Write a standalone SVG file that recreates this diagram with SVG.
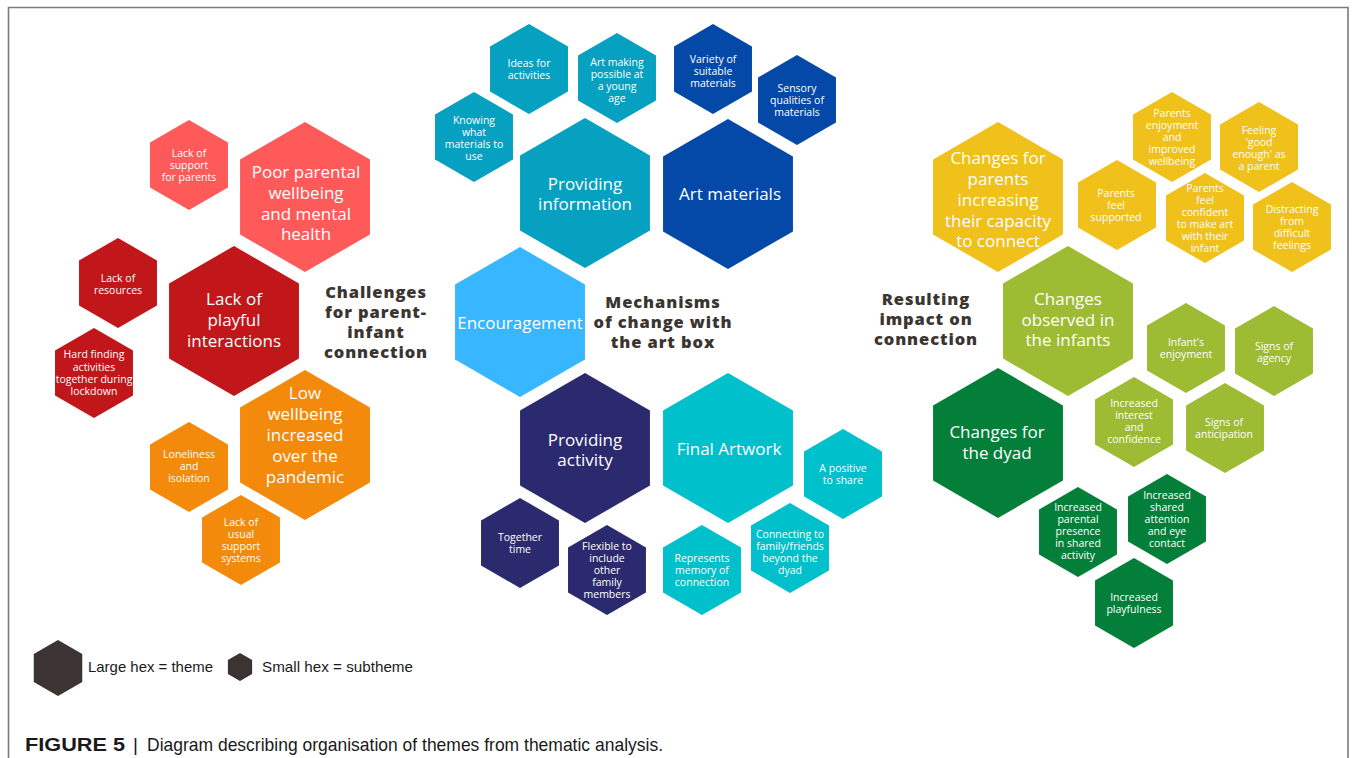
<svg xmlns="http://www.w3.org/2000/svg" xmlns:xlink="http://www.w3.org/1999/xlink" width="1357" height="758" viewBox="0 0 1357 758">
<style>
.bg{fill:#ffffff}
.frame{fill:none;stroke:#7a7a7a;stroke-width:1.6}
.t{font-family:"Open Sans","Noto Sans",sans-serif;fill:#ffffff;text-anchor:middle}
.big{font-size:17px}
.sm{font-size:10.5px}
.title{font-family:"Open Sans","Noto Sans",sans-serif;font-weight:800;font-size:16.5px;letter-spacing:0.9px;fill:#3a3530;text-anchor:middle}
.coral{fill:#ff5a5a}
.red{fill:#c1161a}
.orange{fill:#f38a0c}
.teal{fill:#06a0c1}
.dblue{fill:#0449a8}
.lblue{fill:#38b6ff}
.navy{fill:#2c2a6e}
.cyan{fill:#00c0cb}
.yellow{fill:#efc11a}
.olive{fill:#9ebb34}
.dgreen{fill:#037f3a}
.leg{fill:#3b3433}
.legt{font-family:"Liberation Sans",Arial,sans-serif;font-size:15px;fill:#1a1a1a}
.cap{font-family:"Liberation Sans",Arial,sans-serif;font-size:19px;fill:#1a1a1a}
</style>
<defs>
<polygon id="L" points="0,-75 64.95,-37.5 64.95,37.5 0,75 -64.95,37.5 -64.95,-37.5"/>
<polygon id="S" points="0,-45 38.97,-22.5 38.97,22.5 0,45 -38.97,22.5 -38.97,-22.5"/>
<polygon id="LG" points="0,-28 24.25,-14 24.25,14 0,28 -24.25,14 -24.25,-14"/>
<polygon id="SG" points="0,-14 12.12,-7 12.12,7 0,14 -12.12,7 -12.12,-7"/>
</defs>
<rect class="bg" x="0" y="0" width="1357" height="758"/>
<path class="frame" d="M8.5,758 V7.5 H1348 V758"/>

<!-- Left cluster -->
<g id="lack-support">
<use href="#S" x="189" y="165" class="coral"/>
<text class="t sm"><tspan x="189" y="157">Lack of</tspan><tspan x="189" y="169">support</tspan><tspan x="189" y="181">for parents</tspan></text>
</g>
<g id="poor-wellbeing">
<use href="#L" x="305" y="197" class="coral"/>
<text class="t big"><tspan x="306" y="178">Poor parental</tspan><tspan x="306" y="199">wellbeing</tspan><tspan x="306" y="220">and mental</tspan><tspan x="306" y="240">health</tspan></text>
</g>
<g id="lack-resources">
<use href="#S" x="118" y="283" class="red"/>
<text class="t sm"><tspan x="118" y="282">Lack of</tspan><tspan x="118" y="294">resources</tspan></text>
</g>
<g id="lack-playful">
<use href="#L" x="234" y="321" class="red"/>
<text class="t big"><tspan x="234" y="305">Lack of</tspan><tspan x="234" y="326">playful</tspan><tspan x="234" y="347">interactions</tspan></text>
</g>
<g id="hard-finding">
<use href="#S" x="94" y="373" class="red"/>
<text class="t sm"><tspan x="94" y="358">Hard finding</tspan><tspan x="94" y="371">activities</tspan><tspan x="94" y="383">together during</tspan><tspan x="94" y="395">lockdown</tspan></text>
</g>
<g id="low-wellbeing">
<use href="#L" x="305" y="445" class="orange"/>
<text class="t big"><tspan x="305" y="399">Low</tspan><tspan x="305" y="420">wellbeing</tspan><tspan x="305" y="441">increased</tspan><tspan x="305" y="462">over the</tspan><tspan x="305" y="483">pandemic</tspan></text>
</g>
<g id="loneliness">
<use href="#S" x="189" y="467" class="orange"/>
<text class="t sm"><tspan x="189" y="458">Loneliness</tspan><tspan x="189" y="470">and</tspan><tspan x="189" y="482">isolation</tspan></text>
</g>
<g id="lack-usual">
<use href="#S" x="241" y="540" class="orange"/>
<text class="t sm"><tspan x="241" y="526">Lack of</tspan><tspan x="241" y="538">usual</tspan><tspan x="241" y="550">support</tspan><tspan x="241" y="562">systems</tspan></text>
</g>
<g id="title-challenges">
<text class="title"><tspan x="376" y="298">Challenges</tspan><tspan x="376" y="318">for parent-</tspan><tspan x="376" y="338">infant</tspan><tspan x="376" y="358">connection</tspan></text>
</g>

<!-- Middle cluster -->
<g id="ideas">
<use href="#S" x="529" y="69" class="teal"/>
<text class="t sm"><tspan x="529" y="67">Ideas for</tspan><tspan x="529" y="79">activities</tspan></text>
</g>
<g id="art-making">
<use href="#S" x="617" y="78" class="teal"/>
<text class="t sm"><tspan x="617" y="66">Art making</tspan><tspan x="617" y="78">possible at</tspan><tspan x="617" y="90">a young</tspan><tspan x="617" y="102">age</tspan></text>
</g>
<g id="knowing">
<use href="#S" x="474" y="137" class="teal"/>
<text class="t sm"><tspan x="474" y="124">Knowing</tspan><tspan x="474" y="136">what</tspan><tspan x="474" y="148">materials to</tspan><tspan x="474" y="160">use</tspan></text>
</g>
<g id="providing-info">
<use href="#L" x="585" y="193" class="teal"/>
<text class="t big"><tspan x="585" y="190">Providing</tspan><tspan x="585" y="210">information</tspan></text>
</g>
<g id="variety">
<use href="#S" x="713" y="69" class="dblue"/>
<text class="t sm"><tspan x="713" y="63">Variety of</tspan><tspan x="713" y="75">suitable</tspan><tspan x="713" y="87">materials</tspan></text>
</g>
<g id="sensory">
<use href="#S" x="797" y="100" class="dblue"/>
<text class="t sm"><tspan x="797" y="92">Sensory</tspan><tspan x="797" y="104">qualities of</tspan><tspan x="797" y="116">materials</tspan></text>
</g>
<g id="art-materials">
<use href="#L" x="728" y="194" class="dblue"/>
<text class="t big"><tspan x="730" y="200">Art materials</tspan></text>
</g>
<g id="encouragement">
<use href="#L" x="520" y="322" class="lblue"/>
<text class="t big"><tspan x="520" y="329">Encouragement</tspan></text>
</g>
<g id="title-mechanisms">
<text class="title"><tspan x="663" y="308">Mechanisms</tspan><tspan x="663" y="328">of change with</tspan><tspan x="663" y="348">the art box</tspan></text>
</g>
<g id="providing-activity">
<use href="#L" x="585" y="448" class="navy"/>
<text class="t big"><tspan x="585" y="446">Providing</tspan><tspan x="585" y="466">activity</tspan></text>
</g>
<g id="final-artwork">
<use href="#L" x="728" y="448" class="cyan"/>
<text class="t big"><tspan x="729" y="455">Final Artwork</tspan></text>
</g>
<g id="positive-share">
<use href="#S" x="843" y="474" class="cyan"/>
<text class="t sm"><tspan x="843" y="472">A positive</tspan><tspan x="843" y="484">to share</tspan></text>
</g>
<g id="together-time">
<use href="#S" x="520" y="543" class="navy"/>
<text class="t sm"><tspan x="520" y="541">Together</tspan><tspan x="520" y="553">time</tspan></text>
</g>
<g id="flexible">
<use href="#S" x="607" y="570" class="navy"/>
<text class="t sm"><tspan x="607" y="550">Flexible to</tspan><tspan x="607" y="562">include</tspan><tspan x="607" y="574">other</tspan><tspan x="607" y="586">family</tspan><tspan x="607" y="598">members</tspan></text>
</g>
<g id="represents">
<use href="#S" x="702" y="570" class="cyan"/>
<text class="t sm"><tspan x="702" y="562">Represents</tspan><tspan x="702" y="574">memory of</tspan><tspan x="702" y="586">connection</tspan></text>
</g>
<g id="connecting">
<use href="#S" x="790" y="548" class="cyan"/>
<text class="t sm"><tspan x="790" y="538">Connecting to</tspan><tspan x="790" y="550">family/friends</tspan><tspan x="790" y="562">beyond the</tspan><tspan x="790" y="574">dyad</tspan></text>
</g>

<!-- Right cluster -->
<g id="changes-parents">
<use href="#L" x="998" y="197" class="yellow"/>
<text class="t big"><tspan x="998" y="164">Changes for</tspan><tspan x="998" y="185">parents</tspan><tspan x="998" y="206">increasing</tspan><tspan x="998" y="227">their capacity</tspan><tspan x="998" y="247">to connect</tspan></text>
</g>
<g id="parents-enjoyment">
<use href="#S" x="1172" y="137" class="yellow"/>
<text class="t sm"><tspan x="1172" y="117">Parents</tspan><tspan x="1172" y="129">enjoyment</tspan><tspan x="1172" y="141">and</tspan><tspan x="1172" y="153">improved</tspan><tspan x="1172" y="165">wellbeing</tspan></text>
</g>
<g id="good-enough">
<use href="#S" x="1259" y="147" class="yellow"/>
<text class="t sm"><tspan x="1259" y="134">Feeling</tspan><tspan x="1259" y="146">'good</tspan><tspan x="1259" y="158">enough' as</tspan><tspan x="1259" y="170">a parent</tspan></text>
</g>
<g id="parents-supported">
<use href="#S" x="1117" y="205" class="yellow"/>
<text class="t sm"><tspan x="1116" y="197">Parents</tspan><tspan x="1116" y="209">feel</tspan><tspan x="1116" y="221">supported</tspan></text>
</g>
<g id="parents-confident">
<use href="#S" x="1205" y="218" class="yellow"/>
<text class="t sm"><tspan x="1205" y="192">Parents</tspan><tspan x="1205" y="204">feel</tspan><tspan x="1205" y="216">confident</tspan><tspan x="1205" y="228">to make art</tspan><tspan x="1205" y="240">with their</tspan><tspan x="1205" y="252">infant</tspan></text>
</g>
<g id="distracting">
<use href="#S" x="1292" y="227" class="yellow"/>
<text class="t sm"><tspan x="1292" y="213">Distracting</tspan><tspan x="1292" y="225">from</tspan><tspan x="1292" y="237">difficult</tspan><tspan x="1292" y="249">feelings</tspan></text>
</g>
<g id="title-resulting">
<text class="title"><tspan x="926" y="305">Resulting</tspan><tspan x="926" y="325">impact on</tspan><tspan x="926" y="345">connection</tspan></text>
</g>
<g id="changes-infants">
<use href="#L" x="1068" y="321" class="olive"/>
<text class="t big"><tspan x="1068" y="305">Changes</tspan><tspan x="1068" y="326">observed in</tspan><tspan x="1068" y="346">the infants</tspan></text>
</g>
<g id="infants-enjoyment">
<use href="#S" x="1186" y="348" class="olive"/>
<text class="t sm"><tspan x="1186" y="346">Infant's</tspan><tspan x="1186" y="358">enjoyment</tspan></text>
</g>
<g id="signs-agency">
<use href="#S" x="1274" y="351" class="olive"/>
<text class="t sm"><tspan x="1274" y="350">Signs of</tspan><tspan x="1274" y="362">agency</tspan></text>
</g>
<g id="increased-interest">
<use href="#S" x="1134" y="422" class="olive"/>
<text class="t sm"><tspan x="1134" y="407">Increased</tspan><tspan x="1134" y="419">interest</tspan><tspan x="1134" y="431">and</tspan><tspan x="1134" y="443">confidence</tspan></text>
</g>
<g id="signs-anticipation">
<use href="#S" x="1225" y="428" class="olive"/>
<text class="t sm"><tspan x="1224" y="426">Signs of</tspan><tspan x="1224" y="438">anticipation</tspan></text>
</g>
<g id="changes-dyad">
<use href="#L" x="998" y="443" class="dgreen"/>
<text class="t big"><tspan x="997" y="438">Changes for</tspan><tspan x="997" y="459">the dyad</tspan></text>
</g>
<g id="parental-presence">
<use href="#S" x="1078" y="532" class="dgreen"/>
<text class="t sm"><tspan x="1078" y="511">Increased</tspan><tspan x="1078" y="523">parental</tspan><tspan x="1078" y="535">presence</tspan><tspan x="1078" y="547">in shared</tspan><tspan x="1078" y="559">activity</tspan></text>
</g>
<g id="shared-attention">
<use href="#S" x="1167" y="519" class="dgreen"/>
<text class="t sm"><tspan x="1167" y="499">Increased</tspan><tspan x="1167" y="511">shared</tspan><tspan x="1167" y="523">attention</tspan><tspan x="1167" y="535">and eye</tspan><tspan x="1167" y="547">contact</tspan></text>
</g>
<g id="playfulness">
<use href="#S" x="1134" y="603" class="dgreen"/>
<text class="t sm"><tspan x="1134" y="601">Increased</tspan><tspan x="1134" y="613">playfulness</tspan></text>
</g>

<!-- Legend -->
<g id="legend-large">
<use href="#LG" x="58" y="668" class="leg"/>
<text class="legt" x="88" y="672" textLength="125" lengthAdjust="spacingAndGlyphs">Large hex = theme</text>
</g>
<g id="legend-small">
<use href="#SG" x="240" y="667" class="leg"/>
<text class="legt" x="262" y="672" textLength="151" lengthAdjust="spacingAndGlyphs">Small hex = subtheme</text>
</g>

<!-- Caption -->
<g id="caption">
<text class="cap" x="25" y="751" font-weight="bold" textLength="100" lengthAdjust="spacingAndGlyphs">FIGURE 5</text>
<text class="cap" x="133" y="751">|</text>
<text class="cap" x="147" y="751" textLength="516" lengthAdjust="spacingAndGlyphs">Diagram describing organisation of themes from thematic analysis.</text>
</g>
</svg>
